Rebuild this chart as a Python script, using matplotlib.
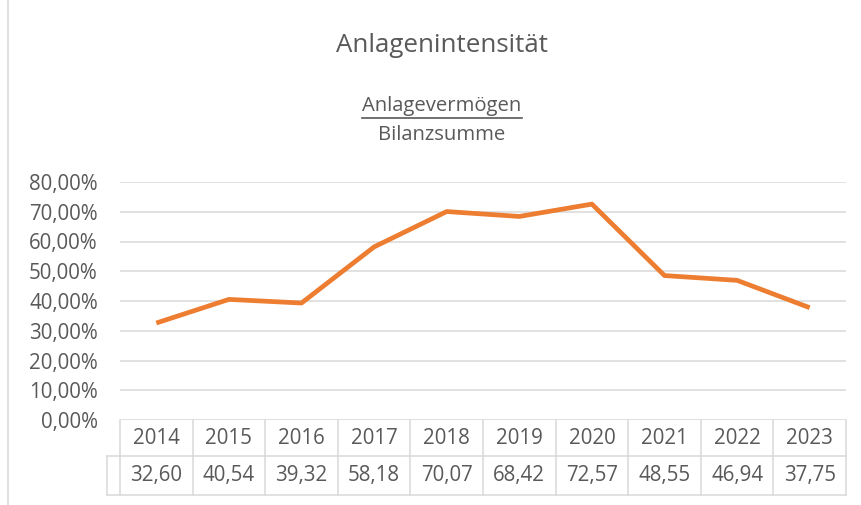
import matplotlib
matplotlib.use("Agg")
import matplotlib.pyplot as plt
from matplotlib.lines import Line2D
import matplotlib.transforms as mtransforms

years = ["2014", "2015", "2016", "2017", "2018", "2019", "2020", "2021", "2022", "2023"]
values = [32.60, 40.54, 39.32, 58.18, 70.07, 68.42, 72.57, 48.55, 46.94, 37.75]
yticks = [0, 10, 20, 30, 40, 50, 60, 70, 80]

W, H = 862, 505
TXT = "#595959"
GRID = "#D9D9D9"
LINE = "#ED7D31"
FS = 14.8
plt.rcParams['font.family'] = ['Open Sans', 'DejaVu Sans']

fig = plt.figure(figsize=(W / 100, H / 100), dpi=100)
ax_l, ax_r, ax_t, ax_b = 120, 846, 182, 420
ax = fig.add_axes([ax_l / W, 1 - ax_b / H, (ax_r - ax_l) / W, (ax_b - ax_t) / H])

x = list(range(len(years)))
ax.plot(x, values, color=LINE, lw=3.4, solid_capstyle='butt', solid_joinstyle='round', zorder=3)
ax.set_xlim(-0.5, len(years) - 0.5)
ax.set_ylim(0, 80)
ax.set_yticks(yticks)
ax.set_yticklabels([f"{v:.2f}".replace('.', ',') + "%" for v in yticks], color=TXT, fontsize=FS)
ax.tick_params(axis='y', length=0, pad=16)
ax.set_xticks([])
for s in ax.spines.values():
    s.set_visible(False)
for v in yticks:
    ax.axhline(v, color=GRID, lw=1.1, zorder=1)

# data table
axh = ax_b - ax_t
r1 = -36 / axh
r2 = -75 / axh
trans = mtransforms.blended_transform_factory(ax.transData, ax.transAxes)
xl = -0.5 - 13 / ((ax_r - ax_l) / len(years))
xr = len(years) - 0.5
kw = dict(color=GRID, lw=1.1, transform=trans, clip_on=False, zorder=1)
ax.add_line(Line2D([xl, xr], [r1, r1], **kw))
ax.add_line(Line2D([xl, xr], [r2, r2], **kw))
ax.add_line(Line2D([xl, xl], [r1, r2], **kw))
for i in range(len(years) + 1):
    ax.add_line(Line2D([i - 0.5, i - 0.5], [0, r2], **kw))
for i, (yr, v) in enumerate(zip(years, values)):
    ax.text(i, r1 / 2, yr, transform=trans, ha='center', va='center', color=TXT, fontsize=FS)
    ax.text(i, (r1 + r2) / 2, f"{v:.2f}".replace('.', ','), transform=trans,
            ha='center', va='center', color=TXT, fontsize=FS)

# titles
fig.text(442 / W, 1 - 46 / H, "Anlagenintensität", ha='center', va='center', color=TXT, fontsize=18.6)
sub = fig.text(442 / W, 1 - 106 / H, "Anlagevermögen", ha='center', va='center', color=TXT, fontsize=14.6)
fig.text(442 / W, 1 - 135 / H, "Bilanzsumme", ha='center', va='center', color=TXT, fontsize=14.6)
fig.canvas.draw()
bb = sub.get_window_extent()
fig.add_artist(Line2D([bb.x0 / W, bb.x1 / W], [1 - 117.5 / H, 1 - 117.5 / H],
                      transform=fig.transFigure, color=TXT, lw=1.2))

# chart frame left edge
fig.add_artist(Line2D([8.5 / W, 8.5 / W], [0, 1], transform=fig.transFigure, color=GRID, lw=1.2))

fig.savefig("out.png", dpi=100)
